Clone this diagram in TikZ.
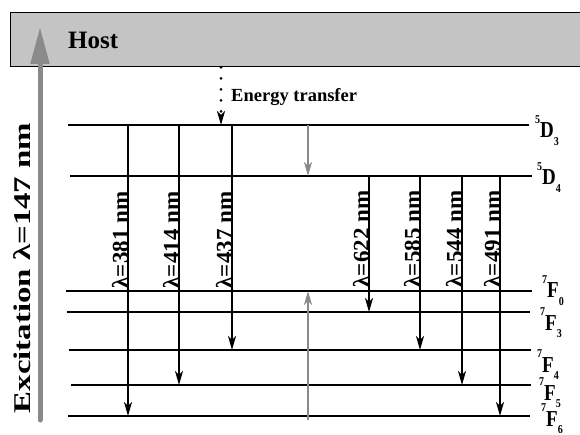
\documentclass[tikz,border=0pt]{standalone}
\usepackage{fontspec}
\setmainfont{Liberation Serif}
\usepackage{graphicx}
\usetikzlibrary{arrows.meta}

\definecolor{hostgray}{HTML}{C4C4C4}
\definecolor{midgray}{HTML}{8A8A8A}

% term symbol: superscript, letter, subscript
\newcommand{\lvlname}[3]{\scalebox{1}[1.2]{\raisebox{12pt}{\fontsize{10}{10}\selectfont #1}\fontsize{19}{19}\selectfont #2\raisebox{-6pt}{\fontsize{10}{10}\selectfont #3}}}

\begin{document}
\begin{tikzpicture}[
		x = 1pt, y = 1pt, % one unit = one pixel of the sketch
		> = {Stealth[length=14pt,width=8pt,inset=4pt]}, % arrow head style
		font = \bfseries,
		level/.style = {line width=2pt},
		emit/.style = {->, line width=1.8pt},
		relax/.style = {->, line width=2pt, draw=midgray, fill=midgray},
		excite/.style = {-{Triangle[length=37pt,width=18pt]}, line width=5pt, draw=midgray, fill=midgray, line cap=round},
		transfer/.style = {->, line width=3pt, line cap=round, dash pattern=on 0pt off 11pt},
		wavelen/.style = {rotate=90, anchor=base, inner sep=0pt, font=\bfseries\fontsize{23}{23}\selectfont},
		lvltext/.style = {anchor=base west, inner sep=0pt}
		]
		
		\useasboundingbox (0,0) rectangle (580,-435);
		
		% host band
		\node[draw, fill=hostgray, line width=1.3pt, minimum width=600pt, minimum height=54pt,
			inner sep=0pt, anchor=north west] (host) at (10,-12) {};
		\node[anchor=base west, inner sep=0pt, font=\bfseries\fontsize{25}{25}\selectfont] (hostlbl) at (68,-49) {Host};
		
		% excitation
		\coordinate (exbot) at (40,-420);
		\coordinate (extop) at (40,-27);
		\draw[excite] (exbot) -- (extop);
		\node[rotate=90, anchor=base, inner sep=0pt, font=\bfseries\fontsize{24}{24}\selectfont] (exlbl) at (30,-268)
			{\scalebox{1.37}[1]{Excitation λ=147 nm}};
		
		% levels
		\coordinate (D3w) at (68,-125);  \coordinate (D3e) at (529,-125);
		\coordinate (D4w) at (70,-176);  \coordinate (D4e) at (532,-176);
		\coordinate (F0w) at (66,-291);  \coordinate (F0e) at (532,-291);
		\coordinate (F3w) at (67,-312);  \coordinate (F3e) at (530,-312);
		\coordinate (F4w) at (69,-350);  \coordinate (F4e) at (531,-350);
		\coordinate (F5w) at (71,-385);  \coordinate (F5e) at (531,-385);
		\coordinate (F6w) at (68,-416);  \coordinate (F6e) at (530,-416);
		
		\draw[level] (D3w) -- (D3e);
		\draw[level] (D4w) -- (D4e);
		\draw[level] (F0w) -- (F0e);
		\draw[level] (F3w) -- (F3e);
		\draw[level] (F4w) -- (F4e);
		\draw[level] (F5w) -- (F5e);
		\draw[level] (F6w) -- (F6e);
		
		\path (D3e) ++(6,-13) node[lvltext] (lD3) {\lvlname{5}{D}{3}};
		\path (D4e) ++(5,-9)  node[lvltext] (lD4) {\lvlname{5}{D}{4}};
		\path (F0e) ++(10,-7) node[lvltext] (lF0) {\lvlname{7}{F}{0}};
		\path (F3e) ++(10,-18) node[lvltext] (lF3) {\lvlname{7}{F}{3}};
		\path (F4e) ++(6,-22) node[lvltext] (lF4) {\lvlname{7}{F}{4}};
		\path (F5e) ++(8,-15) node[lvltext] (lF5) {\lvlname{7}{F}{5}};
		\path (F6e) ++(11,-10) node[lvltext] (lF6) {\lvlname{7}{F}{6}};
		
		% energy transfer from the host
		\coordinate (et) at (221,0);
		\draw[transfer] (et |- host.south) -- (et |- D3w);
		\node[anchor=base west, inner sep=0pt, font=\bfseries\fontsize{18.5}{18.5}\selectfont] (etlbl) at (231,-102) {Energy transfer};
		
		% non-radiative steps
		\coordinate (nr) at (308,0);
		\coordinate (nrbot) at (308,-420);
		\draw[relax] (nr |- D3w) -- (nr |- D4w);
		\draw[relax] (nrbot) -- (nr |- F0w);
		
		% emission lines
		\coordinate (c381) at (128,0);
		\coordinate (c414) at (179,0);
		\coordinate (c437) at (232,0);
		\coordinate (c622) at (369,0);
		\coordinate (c585) at (420,0);
		\coordinate (c544) at (462,0);
		\coordinate (c491) at (500,0);
		\coordinate (rowL) at (0,-237);
		\coordinate (rowR) at (0,-233);
		
		\draw[emit] (c381 |- D3w) -- (c381 |- F6w);
		\draw[emit] (c414 |- D3w) -- (c414 |- F5w);
		\draw[emit] (c437 |- D3w) -- (c437 |- F4w);
		\draw[emit] (c622 |- D4w) -- (c622 |- F3w);
		\draw[emit] (c585 |- D4w) -- (c585 |- F4w);
		\draw[emit] (c544 |- D4w) -- (c544 |- F5w);
		\draw[emit] (c491 |- D4w) -- (c491 |- F6w);
		
		\node[wavelen, xshift=-3pt] (w381) at (c381 |- rowL) {λ=381 nm};
		\node[wavelen, xshift=-3pt] (w414) at (c414 |- rowL) {λ=414 nm};
		\node[wavelen, xshift=-3pt] (w437) at (c437 |- rowL) {λ=437 nm};
		\node[wavelen, xshift=-6pt] (w622) at (c622 |- rowR) {λ=622 nm};
		\node[wavelen, xshift=-6pt] (w585) at (c585 |- rowR) {λ=585 nm};
		\node[wavelen, xshift=-6pt] (w544) at (c544 |- rowR) {λ=544 nm};
		\node[wavelen, xshift=-6pt] (w491) at (c491 |- rowR) {λ=491 nm};
	\end{tikzpicture}
\end{document}
